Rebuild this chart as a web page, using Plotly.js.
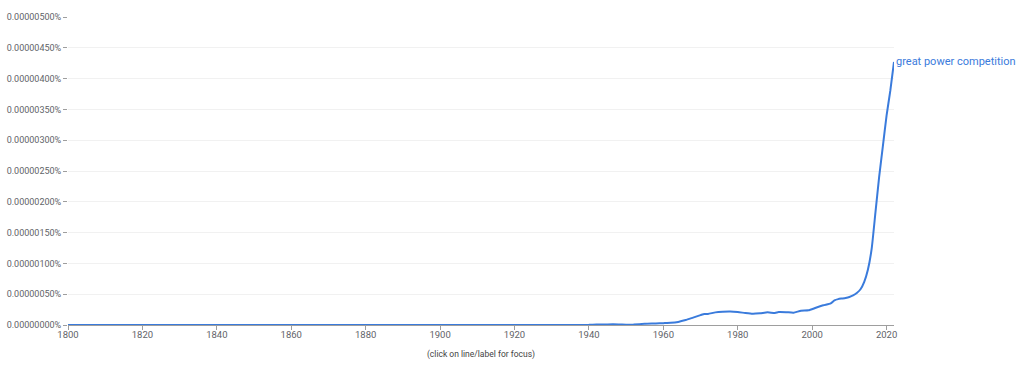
<!DOCTYPE html>
<html>
<head>
<meta charset="utf-8">
<script src="https://cdn.plot.ly/plotly-3.0.1.min.js"></script>
<style>
html,body{margin:0;padding:0;background:#fff;}
#chart{width:1024px;height:367px;}
</style>
</head>
<body>
<div id="chart"></div>
<script>
const seriesName = "great power competition";
const years = [1800, 1850, 1900, 1930, 1938, 1940, 1942, 1945, 1948, 1950, 1952, 1955, 1958, 1960, 1962, 1964, 1966, 1968, 1970, 1971, 1972, 1974, 1976, 1978, 1980, 1982, 1984, 1986, 1988, 1990, 1991, 1993, 1995, 1997, 1999, 2001, 2003, 2005, 2006, 2007, 2008, 2009, 2010, 2011, 2012, 2013, 2014, 2015, 2016, 2017, 2018, 2019, 2020, 2021, 2022];
const values = [0, 0, 0, 0, 0.000000001, 0.000000003, 0.000000008, 0.00000001, 0.00000001, 0.000000005, 0.000000008, 0.00000002, 0.000000025, 0.00000003, 0.000000035, 0.00000005, 0.00000008, 0.00000012, 0.00000016, 0.00000018, 0.00000018, 0.000000205, 0.000000215, 0.000000218, 0.00000021, 0.000000195, 0.000000183, 0.00000019, 0.000000205, 0.000000195, 0.00000021, 0.000000208, 0.0000002, 0.000000232, 0.000000238, 0.00000028, 0.00000032, 0.00000035, 0.0000004, 0.00000042, 0.00000043, 0.00000044, 0.000000455, 0.00000048, 0.00000052, 0.00000058, 0.0000007, 0.0000009, 0.00000124, 0.00000182, 0.0000024, 0.0000029, 0.0000034, 0.0000038, 0.00000427];
const xTicks = [1800, 1820, 1840, 1860, 1880, 1900, 1920, 1940, 1960, 1980, 2000, 2020];
const yTicks = [0, 0.0000005, 0.000001, 0.0000015, 0.000002, 0.0000025, 0.000003, 0.0000035, 0.000004, 0.0000045, 0.000005];
const lineColor = "#3a7bdc";

const trace = {
  x: years, y: values, type: "scatter", mode: "lines",
  line: {color: lineColor, width: 2, shape: "spline", smoothing: 0.5},
  hoverinfo: "x+y", showlegend: false
};

const layout = {
  width: 1024, height: 367,
  margin: {l: 68, r: 130, t: 17, b: 42},
  paper_bgcolor: "#fff", plot_bgcolor: "#fff",
  font: {family: "Roboto, Arial, sans-serif", size: 10, color: "#5f6368"},
  xaxis: {
    range: [1800, 2022], tickvals: xTicks, ticktext: xTicks.map(String),
    showgrid: false, zeroline: false, showline: true, linecolor: "#9e9e9e", linewidth: 1,
    ticks: "outside", ticklen: 4, tickcolor: "#9e9e9e", ticklabelstandoff: -3,
    tickfont: {size: 9.5, color: "#5f6368"},
    title: {text: "(click on line/label for focus)", font: {size: 8.5, color: "#444"}, standoff: 11}
  },
  yaxis: {
    range: [0, 0.000005], tickvals: yTicks,
    ticktext: yTicks.map(v => (v * 1).toFixed(8) + "%"),
    showgrid: true, gridcolor: "#f1f1f1", zeroline: false, showline: false,
    ticks: "outside", ticklen: 4, tickcolor: "#9e9e9e",
    tickfont: {size: 9, color: "#5f6368"}
  },
  annotations: [{
    x: years[years.length - 1], y: values[values.length - 1], xref: "x", yref: "y",
    text: seriesName, showarrow: false, xanchor: "left", yanchor: "middle",
    xshift: 0, yshift: 0, font: {size: 11, color: lineColor}
  }]
};

Plotly.newPlot("chart", [trace], layout, {displayModeBar: false, staticPlot: false});
</script>
</body>
</html>
